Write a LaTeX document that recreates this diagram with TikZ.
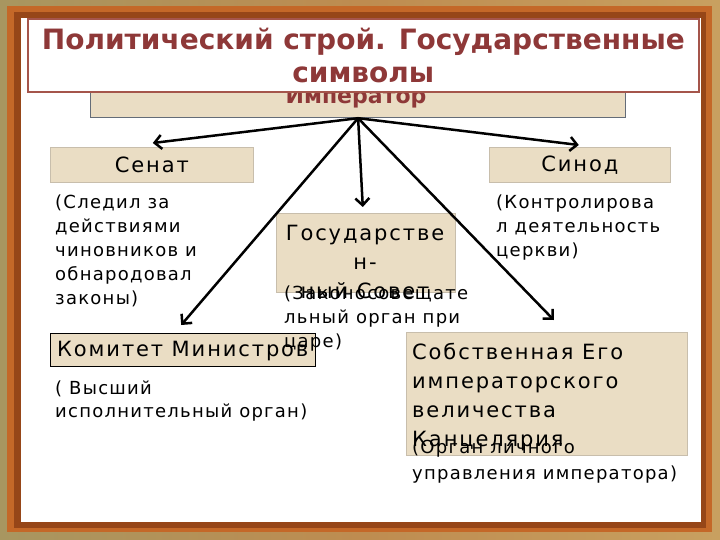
\documentclass[tikz,border=0pt]{standalone}
\usepackage{fontspec}
\setmainfont{DejaVu Sans}
\newfontfamily\notefont[LetterSpace=7]{DejaVu Sans}
\newfontfamily\lblfont[LetterSpace=9]{DejaVu Sans}
\usetikzlibrary{arrows.meta}
\definecolor{parch}{RGB}{234,221,196}
\definecolor{parchline}{RGB}{200,190,172}
\definecolor{titlered}{RGB}{142,56,56}
\definecolor{frameorange}{RGB}{196,104,40}
\definecolor{framebrown}{RGB}{150,70,24}
\definecolor{texa}{RGB}{168,150,96}
\definecolor{texb}{RGB}{200,160,96}

\begin{document}
\begin{tikzpicture}[x=1pt,y=-1pt,
    box/.style={fill=parch,draw=parchline,line width=0.6,inner sep=0,anchor=north west},
    note/.style={anchor=north west,align=left,inner sep=0,font=\notefont\fontsize{18}{24}\selectfont},
    lbl/.style={inner sep=0,font=\lblfont\fontsize{21}{29}\selectfont},
    arr/.style={line width=2.5,-{Straight Barb[length=7,width=14,line width=2.5]}}]
    \useasboundingbox (0,0) rectangle (720,540);
    % frame
    \shade[left color=texa,right color=texb,middle color={rgb,255:red,190;green,140;blue,80}] (0,0) rectangle (720,540);
    \fill[frameorange] (7,6) rectangle (712,532);
    \fill[framebrown] (14,12) rectangle (706,528);
    \fill[white] (21,18) rectangle (701,522);

    \node[box,draw={rgb,255:red,100;green,108;blue,120},line width=1.2,minimum width=535,minimum height=50] (imp) at (90,67) {};
    \node[inner sep=0,font=\fontsize{22}{25}\selectfont\bfseries,text=titlered] (imptxt) at (356,98) {Император};
    \node[fill=white,draw={rgb,255:red,165;green,85;blue,75},line width=1.6,minimum width=671,minimum height=73,anchor=north west,inner sep=0] (title) at (27,18) {};
    \node[align=center,font=\fontsize{28}{33}\selectfont\bfseries,text=titlered] (titletxt) at (title.center) {Политический строй. Государственные\\символы};

    \node[box,minimum width=203,minimum height=35] (senat) at (50,147) {};
    \node[lbl] (senattxt) at (senat.center) {Сенат};
    \node[box,minimum width=181,minimum height=35] (sinod) at (489,147) {};
    \node[lbl] (sinodtxt) at (sinod.center) {Синод};
    \node[box,minimum width=179,minimum height=79] (gos) at (276,213) {};
    \node[lbl,align=center,anchor=north] (gostxt) at (365,225) {Государстве\\н-\\ный Совет};
    \node[box,draw=black,line width=1.4,minimum width=265,minimum height=33] (kom) at (50,333) {};
    \node[lbl,anchor=west] (komtxt) at (57,351) {Комитет Министров};
    \node[box,minimum width=281,minimum height=123] (kanc) at (406,332) {};
    \node[lbl,align=left,anchor=north west] (kanctxt) at (412,343) {Собственная Его\\императорского\\величества\\Канцелярия};

    \node[note] (senatnote) at (55,195) {(Следил за\\действиями\\чиновников и\\обнародовал\\законы)};
    \node[note] (sinodnote) at (496,195) {(Контролирова\\л деятельность\\церкви)};
    \node[note] (gosnote) at (284,286) {(Законосовещате\\льный орган при\\царе)};
    \node[note,font=\notefont\fontsize{18}{23}\selectfont] (komnote) at (55,381) {( Высший\\исполнительный орган)};
    \node[note,font=\notefont\fontsize{18}{26}\selectfont] (kancnote) at (412,440) {(Орган личного\\управления императора)};

    \draw[arr] (imp.south) -- ([xshift=1,yshift=4]senat.north);
    \draw[arr] (imp.south) -- ([xshift=-1,yshift=2]sinod.north);
    \draw[arr] (imp.south) -- ([xshift=-3,yshift=6]gos.north);
    \draw[arr] (imp.south) -- ([xshift=-2,yshift=8]kom.north);
    \draw[arr] (imp.south) -- ([xshift=7,yshift=12]kanc.north);
\end{tikzpicture}
\end{document}
